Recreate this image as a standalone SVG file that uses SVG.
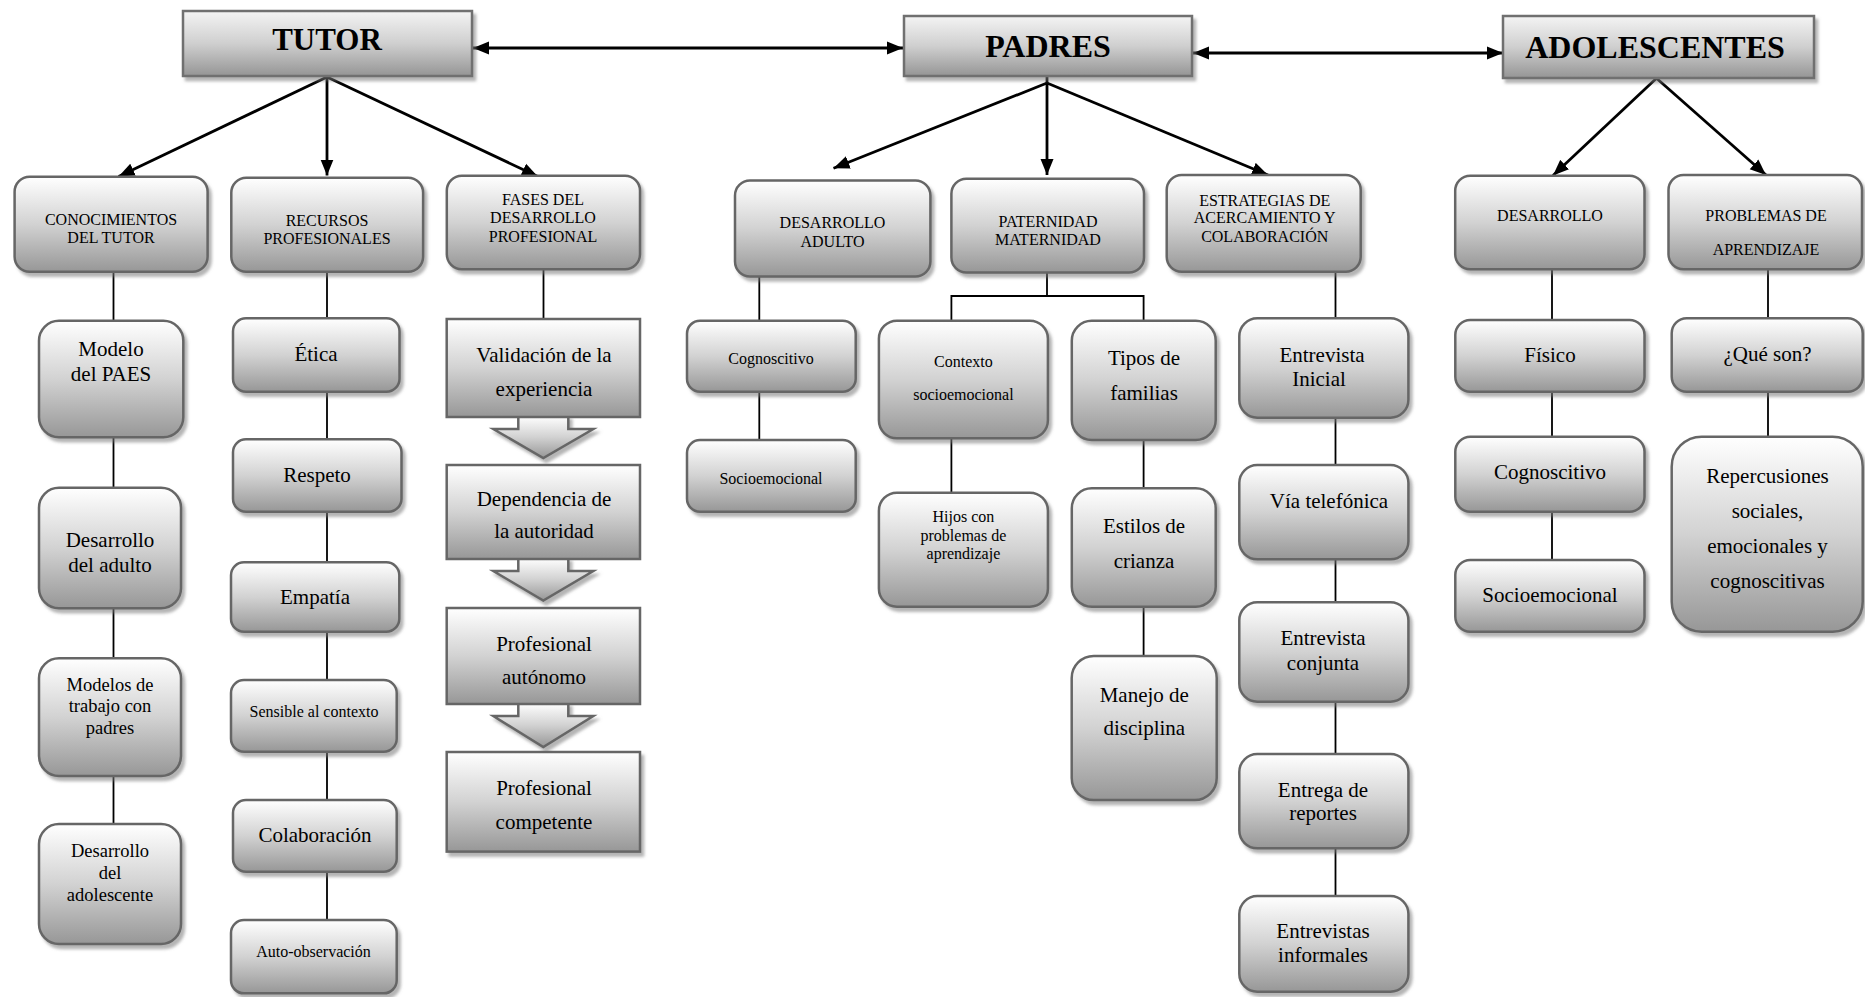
<svg xmlns="http://www.w3.org/2000/svg" width="1865" height="997" viewBox="0 0 1865 997">
<defs>
<linearGradient id="g" x1="0" y1="0" x2="0" y2="1">
<stop offset="0" stop-color="#ffffff"/>
<stop offset="0.5" stop-color="#d2d2d2"/>
<stop offset="1" stop-color="#979797"/>
</linearGradient>
<linearGradient id="gh" x1="0" y1="0" x2="0" y2="1">
<stop offset="0" stop-color="#f4f4f4"/>
<stop offset="0.5" stop-color="#cfcfcf"/>
<stop offset="1" stop-color="#959595"/>
</linearGradient>
<filter id="ds" x="-10%" y="-10%" width="125%" height="130%">
<feDropShadow dx="3" dy="4" stdDeviation="1.5" flood-color="#777" flood-opacity="0.55"/>
</filter>
<marker id="ah" markerUnits="userSpaceOnUse" markerWidth="17" markerHeight="14" refX="16" refY="7" orient="auto-start-reverse">
<path d="M0,0.5 L16,7 L0,13.5 z" fill="#000"/>
</marker>
<style>
.box{fill:url(#g);stroke:#666;stroke-width:2.5;filter:url(#ds)}
.hbox{fill:url(#gh);stroke:#707070;stroke-width:2.5;filter:url(#ds)}
.t{font-family:"Liberation Serif","Times New Roman",serif;text-anchor:middle;fill:#000}
.h{font-weight:bold;font-size:31px}
.s{font-size:16px}
.m{font-size:18.5px}
.l{font-size:21px}
.conn{stroke:#000;stroke-width:1.8;fill:none}
.arr{stroke:#000;stroke-width:2.8;fill:none;marker-end:url(#ah)}
.dbl{stroke:#000;stroke-width:2.8;fill:none;marker-end:url(#ah);marker-start:url(#ah)}
</style>
</defs>
<rect width="1865" height="997" fill="#fff"/>

<g id="connectors">
<line class="dbl" x1="473" y1="48" x2="903" y2="48"/>
<line class="dbl" x1="1193" y1="53" x2="1503" y2="53"/>
<line class="arr" x1="327" y1="77" x2="118.6" y2="176.5"/>
<line class="arr" x1="327" y1="77" x2="327" y2="175.5"/>
<line class="arr" x1="327" y1="77" x2="537.8" y2="176.5"/>
<line class="conn" x1="1047" y1="76" x2="1047" y2="84" style="stroke-width:2.8"/>
<line class="arr" x1="1047" y1="83" x2="833.5" y2="168.3"/>
<line class="arr" x1="1047" y1="83" x2="1047" y2="175"/>
<line class="arr" x1="1047" y1="83" x2="1268" y2="175"/>
<line class="arr" x1="1656.5" y1="78.3" x2="1553" y2="175.5"/>
<line class="arr" x1="1656.5" y1="78.3" x2="1766" y2="175"/>
<path class="conn" d="M113.5,272 V321 M113.5,437 V488 M113.5,608 V658 M113.5,776 V824"/>
<path class="conn" d="M327,272 V318 M327,392 V439 M327,512 V562 M327,632 V680 M327,752 V800 M327,872 V920"/>
<path class="conn" d="M543.5,269 V319"/>
<path class="conn" d="M759.3,276 V321 M759.3,392 V440"/>
<path class="conn" d="M1047,272 V296 M951.4,321 V296 H1143.6 V321"/>
<path class="conn" d="M951.4,438 V493"/>
<path class="conn" d="M1143.6,440 V488 M1143.6,607 V656"/>
<path class="conn" d="M1335.5,272 V318 M1335.5,418 V465 M1335.5,559 V602 M1335.5,702 V754 M1335.5,848 V896"/>
<path class="conn" d="M1552,269 V320 M1552,392 V437 M1552,512 V560"/>
<path class="conn" d="M1768,269 V318 M1768,392 V437"/>
</g>

<g id="tutor"><rect class="hbox" x="183" y="11" width="289" height="65"/><text class="t h" x="327" y="50">TUTOR</text></g>
<g id="padres"><rect class="hbox" x="904" y="16" width="288" height="60"/><text class="t h" x="1048" y="56.5" style="font-size:32px">PADRES</text></g>
<g id="adolescentes"><rect class="hbox" x="1503" y="16" width="311" height="62"/><text class="t h" x="1655" y="58" style="font-size:32px">ADOLESCENTES</text></g>

<g id="conocimientos"><rect class="box" x="14.6" y="176.7" width="193" height="95" rx="15"/><text class="t s" x="111" y="225">CONOCIMIENTOS</text><text class="t s" x="111" y="243.3">DEL TUTOR</text></g>
<g id="recursos"><rect class="box" x="231.3" y="177.7" width="191.8" height="94" rx="15"/><text class="t s" x="327" y="225.7">RECURSOS</text><text class="t s" x="327" y="244">PROFESIONALES</text></g>
<g id="fases"><rect class="box" x="446.8" y="175.7" width="193.2" height="93.6" rx="15"/><text class="t s" x="543" y="205">FASES DEL</text><text class="t s" x="543" y="223.3">DESARROLLO</text><text class="t s" x="543" y="241.7">PROFESIONAL</text></g>
<g id="desarrollo-adulto"><rect class="box" x="735" y="180.5" width="195.4" height="96" rx="15"/><text class="t s" x="832.5" y="228.3">DESARROLLO</text><text class="t s" x="832.5" y="246.7">ADULTO</text></g>
<g id="paternidad"><rect class="box" x="951.4" y="178.8" width="192.6" height="93.7" rx="15"/><text class="t s" x="1048" y="226.7">PATERNIDAD</text><text class="t s" x="1048" y="245">MATERNIDAD</text></g>
<g id="estrategias"><rect class="box" x="1166.7" y="175" width="194" height="96.7" rx="15"/><text class="t s" x="1264.7" y="205.7">ESTRATEGIAS DE</text><text class="t s" x="1264.7" y="223.3">ACERCAMIENTO Y</text><text class="t s" x="1264.7" y="241.7">COLABORACIÓN</text></g>
<g id="desarrollo"><rect class="box" x="1455.2" y="175.7" width="189.3" height="93.6" rx="15"/><text class="t s" x="1550" y="220.7">DESARROLLO</text></g>
<g id="problemas"><rect class="box" x="1668.5" y="175" width="193.5" height="94.3" rx="15"/><text class="t s" x="1766" y="220.7">PROBLEMAS DE</text><text class="t s" x="1766" y="255">APRENDIZAJE</text></g>

<g id="modelo-paes"><rect class="box" x="39" y="320.7" width="144.3" height="116.6" rx="20"/><text class="t l" x="111" y="356">Modelo</text><text class="t l" x="111" y="381">del PAES</text></g>
<g id="desarrollo-del-adulto"><rect class="box" x="39" y="487.7" width="142" height="120.6" rx="20"/><text class="t l" x="110" y="547.3">Desarrollo</text><text class="t l" x="110" y="571.7">del adulto</text></g>
<g id="modelos-trabajo"><rect class="box" x="39" y="658.3" width="142" height="117.7" rx="20"/><text class="t m" x="110" y="690.7">Modelos de</text><text class="t m" x="110" y="712.3">trabajo con</text><text class="t m" x="110" y="734">padres</text></g>
<g id="desarrollo-adolescente"><rect class="box" x="39" y="824" width="142" height="120" rx="20"/><text class="t m" x="110" y="856.7">Desarrollo</text><text class="t m" x="110" y="879">del</text><text class="t m" x="110" y="900.7">adolescente</text></g>

<g id="etica"><rect class="box" x="233" y="318.3" width="166.5" height="73.4" rx="13"/><text class="t l" x="316" y="361">Ética</text></g>
<g id="respeto"><rect class="box" x="233" y="439.3" width="168.5" height="72.4" rx="13"/><text class="t l" x="317" y="481.7">Respeto</text></g>
<g id="empatia"><rect class="box" x="231" y="562.3" width="168.3" height="69.4" rx="13"/><text class="t l" x="315" y="604.3">Empatía</text></g>
<g id="sensible"><rect class="box" x="231" y="680" width="165.7" height="71.7" rx="13"/><text class="t s" x="314" y="716.7">Sensible al contexto</text></g>
<g id="colaboracion"><rect class="box" x="233" y="800" width="163.7" height="71.7" rx="13"/><text class="t l" x="315" y="841.7">Colaboración</text></g>
<g id="auto-observacion"><rect class="box" x="231" y="920" width="165.7" height="73.3" rx="13"/><text class="t s" x="313.5" y="956.7">Auto-observación</text></g>

<g id="fase-arrows">
<polygon class="box" points="518.3,416 568.3,416 568.3,429 593.3,429 543.3,458 493.3,429 518.3,429"/>
<polygon class="box" points="518.3,558 568.3,558 568.3,571 593.3,571 543.3,600.5 493.3,571 518.3,571"/>
<polygon class="box" points="518.3,703 568.3,703 568.3,716 593.3,716 543.3,747 493.3,716 518.3,716"/>
</g>
<g id="validacion"><rect class="box" x="446.7" y="319" width="193.3" height="98" style="filter:none"/><text class="t l" x="544" y="361.5">Validación de la</text><text class="t l" x="544" y="395.5">experiencia</text></g>
<g id="dependencia"><rect class="box" x="446.7" y="465" width="193.3" height="94" style="filter:none"/><text class="t l" x="544" y="506">Dependencia de</text><text class="t l" x="544" y="538">la autoridad</text></g>
<g id="autonomo"><rect class="box" x="446.7" y="608" width="193.3" height="96" style="filter:none"/><text class="t l" x="544" y="651">Profesional</text><text class="t l" x="544" y="684">autónomo</text></g>
<g id="competente"><rect class="box" x="446.7" y="752" width="193.3" height="99.6"/><text class="t l" x="544" y="795">Profesional</text><text class="t l" x="544" y="829">competente</text></g>

<g id="cognoscitivo-adulto"><rect class="box" x="687" y="320.7" width="168.7" height="71" rx="13"/><text class="t s" x="771" y="364.3">Cognoscitivo</text></g>
<g id="socioemocional-adulto"><rect class="box" x="687" y="440" width="168.7" height="71.7" rx="13"/><text class="t s" x="771" y="484">Socioemocional</text></g>
<g id="contexto"><rect class="box" x="878.9" y="320.7" width="169" height="117.6" rx="18"/><text class="t s" x="963.4" y="366.7">Contexto</text><text class="t s" x="963.4" y="400">socioemocional</text></g>
<g id="hijos"><rect class="box" x="878.9" y="492.7" width="169" height="114" rx="18"/><text class="t s" x="963.4" y="521.7">Hijos con</text><text class="t s" x="963.4" y="540.7">problemas de</text><text class="t s" x="963.4" y="559.3">aprendizaje</text></g>
<g id="tipos"><rect class="box" x="1071.8" y="320.7" width="143.9" height="119.3" rx="20"/><text class="t l" x="1144" y="365">Tipos de</text><text class="t l" x="1144" y="400">familias</text></g>
<g id="estilos"><rect class="box" x="1071.8" y="488.3" width="143.9" height="118.4" rx="20"/><text class="t l" x="1144" y="532.7">Estilos de</text><text class="t l" x="1144" y="568.3">crianza</text></g>
<g id="manejo"><rect class="box" x="1071.7" y="656" width="145" height="144" rx="22"/><text class="t l" x="1144.3" y="701.7">Manejo de</text><text class="t l" x="1144.3" y="735">disciplina</text></g>

<g id="entrevista-inicial"><rect class="box" x="1239.3" y="318.3" width="169.1" height="99.4" rx="18"/><text class="t l" x="1322" y="361.7">Entrevista</text><text class="t l" x="1319" y="385.7">Inicial</text></g>
<g id="via-telefonica"><rect class="box" x="1239.3" y="465" width="169.1" height="94.3" rx="18"/><text class="t l" x="1329" y="508.3">Vía telefónica</text></g>
<g id="entrevista-conjunta"><rect class="box" x="1239.3" y="602.3" width="169.1" height="99.4" rx="18"/><text class="t l" x="1323" y="645">Entrevista</text><text class="t l" x="1323" y="670">conjunta</text></g>
<g id="entrega"><rect class="box" x="1239.3" y="754" width="169.1" height="94.3" rx="18"/><text class="t l" x="1323" y="796.7">Entrega de</text><text class="t l" x="1323" y="820">reportes</text></g>
<g id="entrevistas-informales"><rect class="box" x="1239.3" y="896" width="169.1" height="95.7" rx="18"/><text class="t l" x="1323" y="938.3">Entrevistas</text><text class="t l" x="1323" y="961.7">informales</text></g>

<g id="fisico"><rect class="box" x="1455.3" y="320" width="189.2" height="71.7" rx="15"/><text class="t l" x="1550" y="361.7">Físico</text></g>
<g id="cognoscitivo"><rect class="box" x="1455.3" y="436.7" width="189.2" height="75" rx="15"/><text class="t l" x="1550" y="479.3">Cognoscitivo</text></g>
<g id="socioemocional"><rect class="box" x="1455.3" y="560" width="189.2" height="71.7" rx="15"/><text class="t l" x="1550" y="601.7">Socioemocional</text></g>
<g id="que-son"><rect class="box" x="1671.7" y="318.3" width="191" height="73.4" rx="15"/><text class="t l" x="1767.5" y="360.7">¿Qué son?</text></g>
<g id="repercusiones"><rect class="box" x="1671.7" y="436.7" width="191" height="195" rx="30"/><text class="t l" x="1767.5" y="483.3">Repercusiones</text><text class="t l" x="1767.5" y="518.3">sociales,</text><text class="t l" x="1767.5" y="553.3">emocionales y</text><text class="t l" x="1767.5" y="588.3">cognoscitivas</text></g>
</svg>
